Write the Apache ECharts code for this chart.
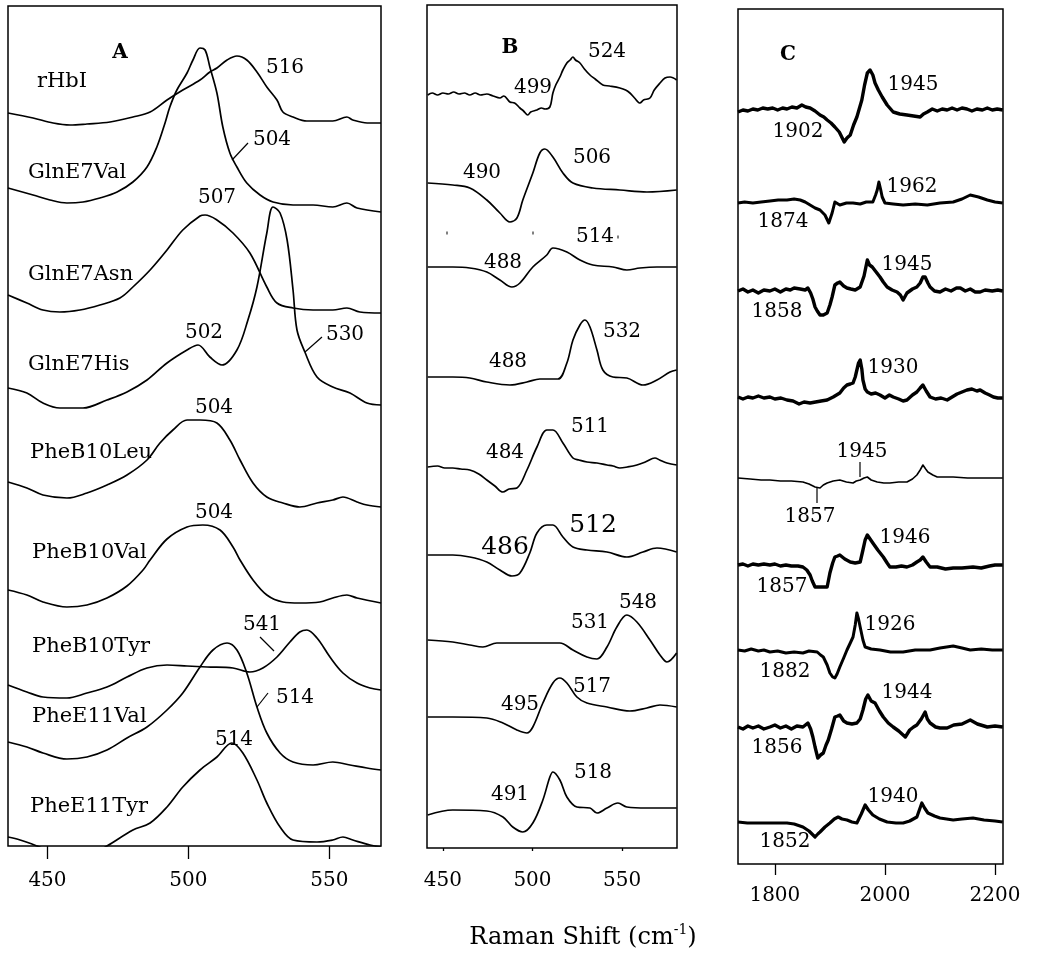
<!DOCTYPE html>
<html>
<head>
<meta charset="utf-8">
<script src="https://cdn.jsdelivr.net/npm/echarts@6/dist/echarts.min.js"></script>
<style>html,body{margin:0;padding:0;background:#fff;}#c{width:1050px;height:959px;}</style>
</head>
<body>
<div id="c"></div>
<script>
// ---------- DATA ----------
const namesA = ['rHbI','GlnE7Val','GlnE7Asn','GlnE7His','PheB10Leu','PheB10Val','PheB10Tyr','PheE11Val','PheE11Tyr'];
const ticksAB = [450, 500, 550];
const ticksC = [1800, 2000, 2200];

// Panel A spectra [Raman shift, intensity]
const A_rHbI = [[436,10],[444.9,5],[452,0],[458,-2],[464,-1],[472.2,1],[480.3,6],[486.4,11],[492.4,23],[498,33],[504.1,43],[507.6,51],[510.1,55],[513.7,63],[517.2,67],[520.7,63],[524.3,51],[527.8,36],[531.4,23],[533.5,11],[537.1,6],[542,2],[551.2,2],[556.2,6],[558.3,3],[563.4,0],[568.3,0]];
const A_GlnE7Val = [[436,24],[444.9,17],[450.9,12],[456.9,9],[462.6,10],[468.6,14],[474.7,20],[480.3,30],[485.3,45],[488.8,65],[491.7,89],[493.4,105],[495.9,122],[499.5,139],[501.6,152],[504.1,164],[505.9,162],[507.6,145],[510.1,119],[512.2,85],[514.7,59],[517.2,45],[520.7,29],[525.4,17],[530,10],[537.1,7],[544.2,7],[551.2,5],[556.2,9],[559.8,4],[568.3,0]];
const A_GlnE7Asn = [[436,18],[442.7,10],[448.4,3],[454.4,1],[461.5,3],[468.6,8],[475.7,15],[480.3,26],[486.4,43],[492.4,63],[498,83],[504.1,97],[505.9,98],[510.1,93],[515.8,80],[521.8,60],[527.8,26],[531.4,10],[537.1,5],[544.2,3],[551.2,3],[556.2,5],[560.8,1],[568.3,0]];
const A_GlnE7His = [[436,17],[442.7,12],[448.4,2],[454.4,-3],[462.6,-3],[471.1,5],[478.2,13],[485.3,25],[492.4,42],[499.5,55],[503.4,60],[507.6,48],[511.9,40],[517.2,55],[521.1,85],[524.3,118],[527.8,172],[530,198],[532.5,192],[535,165],[537.1,115],[538.5,75],[541.3,53],[545.6,28],[551.2,18],[557.3,12],[563.3,2],[568.3,0]];
const A_PheB10Leu = [[436,25],[442.7,19],[448.4,12],[456.9,9],[464,14],[471.1,22],[478.2,32],[485.3,47],[489.9,64],[494.5,77],[499.5,87],[504.1,87],[510.1,84],[514.7,67],[518.3,47],[522.9,24],[527.8,10],[533.5,4],[539.5,0],[545.6,4],[551.2,7],[554.8,10],[559.8,5],[563.3,2],[568.3,0]];
const A_PheB10Val = [[436,13],[442.7,8],[448.4,1],[456.9,-4],[464,-2],[471.1,5],[478.2,17],[483.9,33],[486.4,43],[492.4,64],[499.5,76],[505.1,78],[511.2,73],[515.8,56],[518.3,43],[522.9,23],[527.8,8],[533.5,1],[539.5,0],[546.6,1],[551.2,5],[556.2,8],[559.8,5],[568.3,0]];
const A_PheB10Tyr = [[436,5],[442.7,-2],[448.4,-7],[456.9,-8],[464,-3],[471.1,3],[478.2,13],[485.3,22],[492.4,25],[499.5,24],[506.6,23],[515.8,22],[521.8,18],[526.4,22],[531.4,33],[536,48],[539.5,58],[542,60],[545.6,52],[550.2,33],[554.8,17],[559.8,7],[564.4,2],[568.3,0]];
const A_PheE11Val = [[436,28],[442.7,23],[448.4,17],[456.9,11],[464,13],[471.1,20],[478.2,32],[485.3,43],[492.4,60],[498,77],[504.1,103],[508.7,120],[513.7,127],[517.2,120],[520.7,97],[524.3,63],[527.8,37],[532.5,17],[537.1,8],[544.2,5],[551.2,8],[557.3,5],[563.3,2],[568.3,0]];
const A_PheE11Tyr = [[436,8],[440.3,5],[446.3,-1],[454.4,-10],[463.3,-12],[471.1,-1],[480.3,15],[486.4,22],[492.4,38],[498,58],[504.1,75],[510.1,88],[515.4,102],[519.3,92],[524.3,65],[527.8,42],[532.5,18],[537.1,5],[545.6,3],[551.2,5],[554.8,8],[558.3,5],[564.4,0],[568.3,-2]];

// Panel B spectra
const B_rHbI = [[441.5,0],[444,2],[447,0],[450,2],[453,1],[456,3],[459,1],[462,2],[465,0],[468,2],[471,0],[474.5,1],[478,-1],[481.8,-3],[484,-1],[487.4,-7],[490,-8],[493,-13],[495,-16],[497.4,-20],[499,-17],[502.5,-15],[505,-13],[507,-14],[509.7,-12],[511.4,2],[513,10],[515.3,18],[517,25],[519.2,32],[521,35],[522.6,38],[524,35],[526.5,32],[529,26],[532.1,20],[535,16],[539.3,10],[543,9],[548.8,7],[552,5],[554.4,2],[557,-3],[560,-8],[562,-5],[565.6,-3],[568,5],[571.2,12],[574,17],[576.8,18],[580.5,15]];
const B_GlnE7Val = [[441.5,7],[455.5,5],[465,2],[474.5,-10],[481.8,-23],[487.4,-32],[491.3,-28],[494.6,-10],[500.2,17],[504.1,37],[506.9,41],[511.4,33],[517,17],[522.6,7],[533.7,2],[548.8,0],[563.9,-2],[580.5,0]];
const B_GlnE7Asn = [[441.5,0],[455.5,0],[465,-1],[474.5,-5],[481.8,-13],[488.5,-20],[493,-16],[500.2,0],[508,12],[511.4,19],[519.2,15],[526.5,7],[533.7,2],[544.9,0],[552.7,-3],[560,-1],[569.5,0],[580.5,0]];
const B_GlnE7His = [[441.5,0],[455.5,0],[465,-1],[474.5,-5],[487.4,-8],[496.9,-5],[504.1,-2],[514.2,-2],[519.2,14],[522.6,37],[526.5,52],[529.3,57],[532.1,50],[536,27],[539.3,7],[544.9,0],[552.7,-1],[561.7,-8],[569.5,-3],[576.8,5],[580.5,7]];
const B_PheB10Leu = [[441.5,-1],[447,0],[451,-2],[455.5,-2],[460,-3],[465,-4],[470,-8],[474.5,-14],[479,-20],[483.5,-26],[487,-23],[491.3,-22],[496.9,-4],[502.5,19],[508,36],[511.4,36],[517,23],[522.6,8],[526,6],[530.4,4],[536,3],[541.6,1],[545,0],[548.8,-2],[553,-1],[558.3,1],[563,4],[568.4,8],[571,6],[575.1,3],[580.5,1]];
const B_PheB10Val = [[441.5,-1],[455.5,-1],[465,-3],[474.5,-8],[481.8,-16],[488.5,-22],[493,-19],[498.5,1],[502.5,21],[508,29],[511.4,29],[517,17],[522.6,7],[530.4,4],[541.6,2],[552.7,-3],[561.7,2],[569.5,6],[580.5,2]];
const B_PheB10Tyr = [[441.5,3],[455.5,1],[465,-2],[472.3,-4],[480.1,0],[493,0],[502.5,0],[515.3,0],[522.6,-7],[530.4,-14],[536,-16],[541.6,-4],[547.1,16],[552.7,28],[558.3,21],[565.6,3],[571.2,-12],[575.1,-19],[580.5,-10]];
const B_PheE11Val = [[441.5,-7],[455.5,-7],[474.5,-8],[483.5,-13],[491.3,-20],[496.9,-23],[500.2,-17],[505.8,7],[511.4,27],[515.3,32],[519.2,27],[524.8,13],[530.4,7],[541.6,3],[554.4,-1],[563.9,2],[571.2,5],[580.5,3]];
const B_PheE11Tyr = [[441.5,-5],[455.5,0],[474.5,-1],[483.5,-7],[489,-17],[494.6,-22],[500.2,-13],[505.8,10],[509.7,33],[511.4,38],[515.3,30],[519.2,13],[524.8,3],[532.1,2],[536,-3],[541.6,2],[547.7,7],[552.7,3],[563.9,2],[580.5,2]];

// Panel C spectra
const C_rHbI = [[1733,-2],[1742,0],[1751,-1],[1760,1],[1769,0],[1778,2],[1787,1],[1796,2],[1805,0],[1814,2],[1822,1],[1831,3],[1840,2],[1849,5],[1856,3],[1864,2],[1873,-1],[1882,-5],[1889,-7],[1895,-10],[1902,-13],[1909,-17],[1917,-22],[1926,-32],[1931,-28],[1937,-25],[1943,-15],[1949,-7],[1958,10],[1963,25],[1968,37],[1973,40],[1978,35],[1982,27],[1988,20],[1995,13],[2004,5],[2015,-2],[2027,-4],[2040,-5],[2052,-6],[2064,-7],[2070,-4],[2077,-2],[2086,1],[2095,-1],[2104,1],[2113,0],[2122,2],[2131,0],[2140,2],[2149,1],[2158,-1],[2167,1],[2177,0],[2186,2],[2195,0],[2204,1],[2214,0]];
const C_GlnE7Val = [[1733,0],[1745,1],[1760,0],[1775,1],[1791,2],[1806,3],[1822,3],[1835,4],[1846,3],[1855,1],[1864,-2],[1873,-5],[1882,-7],[1891,-12],[1898,-20],[1904,-10],[1909,1],[1918,-2],[1930,0],[1942,0],[1955,-1],[1966,1],[1978,1],[1983,8],[1986,13],[1989,21],[1992,14],[1995,6],[2000,0],[2015,-1],[2033,-2],[2055,-1],[2077,-2],[2100,0],[2124,1],[2140,4],[2155,8],[2170,6],[2186,3],[2200,1],[2214,0]];
const C_GlnE7Asn = [[1733,0],[1742,2],[1751,-1],[1760,1],[1770,-2],[1780,1],[1791,0],[1800,2],[1810,-1],[1820,2],[1828,1],[1835,3],[1846,2],[1855,1],[1860,3],[1865,-2],[1869,-8],[1873,-16],[1877,-20],[1882,-24],[1888,-24],[1895,-22],[1900,-14],[1904,-6],[1909,6],[1914,8],[1918,9],[1925,5],[1931,3],[1938,2],[1946,1],[1955,4],[1962,15],[1968,31],[1972,26],[1977,24],[1984,19],[1991,14],[1997,9],[2004,4],[2013,1],[2022,-1],[2028,-4],[2033,-9],[2037,-5],[2040,-2],[2050,2],[2058,4],[2064,8],[2069,14],[2073,14],[2078,8],[2082,4],[2090,0],[2100,-1],[2110,2],[2120,0],[2130,3],[2137,3],[2146,0],[2155,2],[2164,-1],[2173,-1],[2182,1],[2195,0],[2205,1],[2214,0]];
const C_GlnE7His = [[1733,0],[1742,-2],[1751,0],[1760,-1],[1770,1],[1780,-1],[1791,0],[1800,-2],[1811,-1],[1822,-3],[1833,-4],[1844,-7],[1853,-5],[1864,-6],[1874,-5],[1884,-4],[1895,-3],[1906,0],[1918,4],[1925,9],[1931,12],[1937,13],[1942,14],[1946,20],[1949,27],[1952,34],[1955,37],[1958,28],[1960,17],[1964,8],[1968,5],[1975,3],[1983,4],[1991,2],[2000,-1],[2008,2],[2015,0],[2025,-2],[2033,-4],[2040,-3],[2050,2],[2058,5],[2064,9],[2069,12],[2075,6],[2082,0],[2092,-2],[2102,-1],[2113,-3],[2122,0],[2131,3],[2140,5],[2149,7],[2158,8],[2167,6],[2173,7],[2182,4],[2190,2],[2197,0],[2205,-1],[2214,-1]];
const C_PheB10Leu = [[1733,0],[1755,-1],[1775,-2],[1791,-2],[1810,-3],[1830,-3],[1851,-4],[1862,-6],[1873,-9],[1882,-10],[1888,-7],[1895,-5],[1906,-3],[1918,-2],[1930,-4],[1942,-5],[1948,-3],[1955,-2],[1962,0],[1968,1],[1975,-2],[1986,-4],[1998,-5],[2009,-5],[2025,-4],[2040,-4],[2050,-1],[2058,3],[2064,8],[2069,13],[2074,9],[2078,6],[2087,3],[2095,1],[2110,1],[2124,1],[2150,0],[2173,0],[2195,0],[2214,0]];
const C_PheB10Val = [[1733,0],[1742,1],[1751,-1],[1760,1],[1770,0],[1780,1],[1791,0],[1800,1],[1810,-1],[1820,0],[1830,-1],[1842,-1],[1851,-2],[1858,-5],[1864,-10],[1868,-16],[1873,-22],[1883,-22],[1895,-22],[1900,-8],[1905,2],[1909,8],[1914,9],[1918,10],[1927,6],[1937,3],[1946,2],[1955,3],[1960,15],[1964,25],[1968,30],[1973,26],[1978,22],[1987,15],[1997,8],[2004,2],[2009,-2],[2020,-2],[2030,-1],[2040,-2],[2050,0],[2058,3],[2064,5],[2069,8],[2075,3],[2082,-2],[2095,-2],[2110,-4],[2124,-3],[2140,-3],[2160,-2],[2175,-3],[2190,-1],[2200,0],[2214,0]];
const C_PheB10Tyr = [[1733,0],[1745,-1],[1757,1],[1770,-1],[1780,0],[1791,-2],[1805,-1],[1820,-3],[1835,-2],[1851,-3],[1862,-1],[1877,-2],[1883,-5],[1888,-7],[1895,-15],[1900,-23],[1905,-27],[1909,-28],[1913,-24],[1918,-17],[1925,-8],[1931,0],[1937,7],[1942,13],[1946,25],[1949,37],[1952,31],[1955,23],[1960,10],[1964,3],[1975,1],[1991,0],[2010,-2],[2033,-2],[2055,0],[2082,0],[2100,2],[2124,4],[2140,2],[2155,0],[2175,1],[2195,0],[2214,0]];
const C_PheE11Val = [[1733,0],[1742,-2],[1751,1],[1760,-1],[1770,1],[1780,-2],[1791,0],[1800,2],[1810,-1],[1820,1],[1830,-2],[1840,1],[1851,0],[1860,4],[1865,-2],[1869,-10],[1873,-20],[1878,-31],[1883,-28],[1888,-26],[1893,-18],[1897,-13],[1903,-2],[1909,10],[1914,11],[1918,12],[1925,6],[1931,4],[1940,3],[1949,4],[1955,8],[1960,17],[1965,28],[1969,32],[1975,26],[1982,24],[1990,16],[1997,10],[2006,4],[2015,0],[2025,-4],[2037,-10],[2045,-3],[2052,0],[2058,2],[2066,8],[2073,15],[2077,8],[2082,4],[2092,0],[2100,-1],[2113,-1],[2125,2],[2140,3],[2155,7],[2168,3],[2186,0],[2200,1],[2214,0]];
const C_PheE11Tyr = [[1733,0],[1750,-1],[1770,-1],[1791,-1],[1808,-1],[1822,-1],[1835,-2],[1851,-5],[1862,-9],[1873,-15],[1878,-12],[1882,-10],[1891,-5],[1900,-1],[1908,3],[1915,5],[1922,3],[1931,2],[1940,0],[1949,-1],[1957,8],[1964,17],[1970,12],[1978,7],[1990,3],[2004,0],[2020,-1],[2033,-1],[2045,1],[2058,5],[2067,19],[2072,14],[2078,9],[2090,6],[2100,4],[2112,3],[2124,2],[2140,3],[2160,4],[2180,2],[2200,1],[2214,0]];

// peak annotations (text)
const peaksA = ['516','504','507','502','530','504','504','541','514','514'];
const peaksB = ['524','499','490','506','488','514','488','532','484','511','486','512','531','548','495','517','491','518'];
const peaksC = ['1945','1902','1962','1874','1945','1858','1930','1945','1857','1946','1857','1926','1882','1944','1856','1940','1852'];

// ---------- LAYOUT ----------
const specA = [A_rHbI,A_GlnE7Val,A_GlnE7Asn,A_GlnE7His,A_PheB10Leu,A_PheB10Val,A_PheB10Tyr,A_PheE11Val,A_PheE11Tyr];
const specB = [B_rHbI,B_GlnE7Val,B_GlnE7Asn,B_GlnE7His,B_PheB10Leu,B_PheB10Val,B_PheB10Tyr,B_PheE11Val,B_PheE11Tyr];
const specC = [C_rHbI,C_GlnE7Val,C_GlnE7Asn,C_GlnE7His,C_PheB10Leu,C_PheB10Val,C_PheB10Tyr,C_PheE11Val,C_PheE11Tyr];
const offA = [723,634,533,441,339,243,156,76,1];
const offB = [753,658,581,471,382,294,205,138,38];
const offC = [754,661,573,467,386,299,214,137,42];
const lwC = [3.4,3,3.4,3.4,1.6,3.4,3,3.4,3.2];

const posPeaksA = [[285,68],[272,140],[217,198],[204,333],[345,335],[214,408],[214,513],[262,625],[295,698],[234,740]];
const posPeaksB = [[607,52],[533,88],[482,173],[592,158],[503,263],[595,237],[508,362],[622,332],[505,453],[590,427],[505,547],[593,525],[590,623],[638,603],[520,705],[592,687],[510,795],[593,773]];
const bigB = [false,false,false,false,false,false,false,false,false,false,true,true,false,false,false,false,false,false];
const posPeaksC = [[913,85],[798,132],[912,187],[783,222],[907,265],[777,312],[893,368],[862,452],[810,517],[905,538],[782,587],[890,625],[785,672],[907,693],[777,748],[893,797],[785,842]];
const namePos = [[37,82],[28,173],[28,275],[28,365],[30,453],[32,553],[32,647],[32,717],[30,807]];
const leadersA = [[232,160,248,143],[305,352,322,337],[260,637,274,651],[257,707,268,693]];
const markC = [[860,462,860,477],[817,487,817,503]];
const dotsB = [[447,233],[533,233],[618,237]];

const FF = '"DejaVu Serif","Liberation Serif",serif';
const chart = echarts.init(document.getElementById('c'), null, {renderer:'canvas', width:1050, height:959});

const series = [];
function addSeries(list, offs, gi, lws, smooth){
  list.forEach((d,i)=>{
    series.push({
      type:'line', xAxisIndex:gi, yAxisIndex:gi, symbol:'none', silent:true, animation:false, clip:true,
      smooth: smooth,
      lineStyle:{color:'#000', width: Array.isArray(lws)? lws[i] : lws, join:'round'},
      data: d.map(p=>[p[0], p[1]+offs[i]])
    });
  });
}
addSeries(specA, offA, 0, 1.7, 0.35);
addSeries(specB, offB, 1, 1.7, 0.35);
addSeries(specC, offC, 2, lwC, false);

const labelStyle = {color:'#000', fontFamily:FF, fontSize:20, formatter:(v)=>String(v)};
function xAxis(gi, min, max, ticks, offset, tlen, margin){
  return {type:'value', gridIndex:gi, min:min, max:max, offset:offset,
    axisLine:{show:false}, splitLine:{show:false},
    axisTick:{show:true, inside:false, length:tlen, customValues:ticks, lineStyle:{color:'#000', width:1.3}},
    axisLabel:Object.assign({margin:margin, customValues:ticks}, labelStyle)};
}

function txt(s, x, y, font, align){
  return {type:'text', x:x, y:y, silent:true,
    style:{text:s, font:font, fill:'#000', align:align||'center', verticalAlign:'middle', textAlign:align||'center', textVerticalAlign:'middle'}};
}
function seg(a){
  return {type:'line', silent:true, shape:{x1:a[0],y1:a[1],x2:a[2],y2:a[3]}, style:{stroke:'#000', lineWidth:1.2}};
}
const g = [];
g.push(txt('A',120,53,'bold 20px '+FF));
g.push(txt('B',510,48,'bold 20px '+FF));
g.push(txt('C',788,55,'bold 20px '+FF));
namesA.forEach((n,i)=>g.push(txt(n, namePos[i][0], namePos[i][1], '21px '+FF, 'left')));
peaksA.forEach((t,i)=>g.push(txt(t, posPeaksA[i][0], posPeaksA[i][1], '20px '+FF)));
peaksB.forEach((t,i)=>g.push(txt(t, posPeaksB[i][0], posPeaksB[i][1], (bigB[i]?'25px ':'20px ')+FF)));
peaksC.forEach((t,i)=>g.push(txt(t, posPeaksC[i][0], posPeaksC[i][1], '20px '+FF)));
leadersA.forEach(a=>g.push(seg(a)));
markC.forEach(a=>g.push(seg(a)));
dotsB.forEach(p=>g.push({type:'rect', silent:true, shape:{x:p[0]-0.75,y:p[1]-1.5,width:1.5,height:3}, style:{fill:'#555'}}));

// axis title with superscript
const cv = document.createElement('canvas').getContext('2d');
const f1 = '24px '+FF, f2 = '14px '+FF;
const t1 = 'Raman Shift (cm', t2 = '-1', t3 = ')';
cv.font = f1; const w1 = cv.measureText(t1).width, w3 = cv.measureText(t3).width;
cv.font = f2; const w2 = cv.measureText(t2).width;
const x0 = 583 - (w1+w2+w3)/2, ty = 938;
g.push(txt(t1, x0, ty, f1, 'left'));
g.push(txt(t2, x0+w1, ty-8, f2, 'left'));
g.push(txt(t3, x0+w1+w2, ty, f1, 'left'));

chart.setOption({
  animation:false,
  backgroundColor:'#fff',
  grid:[
    {left:8, top:6, width:373, height:840, show:true, borderColor:'#000', borderWidth:1.5, backgroundColor:'transparent'},
    {left:427, top:5, width:250, height:843, show:true, borderColor:'#000', borderWidth:1.5, backgroundColor:'transparent'},
    {left:738, top:9, width:265, height:855, show:true, borderColor:'#000', borderWidth:1.5, backgroundColor:'transparent'}
  ],
  xAxis:[
    xAxis(0, 436, 568.3, ticksAB, 0, 13, 25),
    xAxis(1, 441.1, 580.7, ticksAB, 14, 3, 9),
    xAxis(2, 1733, 2214.5, ticksC, 4, 11, 18)
  ],
  yAxis:[
    {type:'value', gridIndex:0, min:0, max:840, show:false},
    {type:'value', gridIndex:1, min:0, max:843, show:false},
    {type:'value', gridIndex:2, min:0, max:855, show:false}
  ],
  series: series,
  graphic: g
});
</script>
</body>
</html>
